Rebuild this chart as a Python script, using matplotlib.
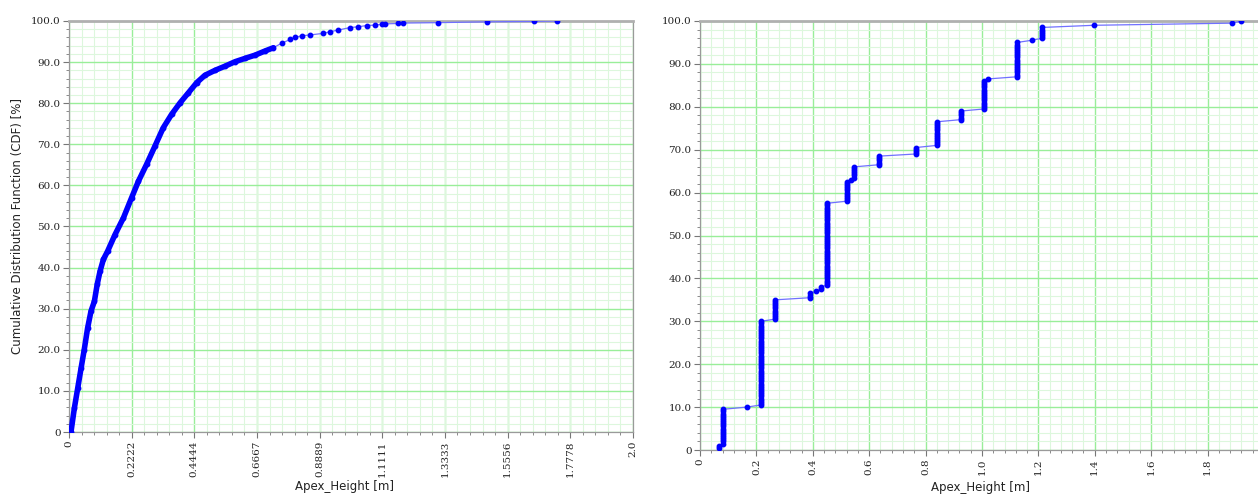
import matplotlib
matplotlib.use("Agg")
import matplotlib.pyplot as plt
from matplotlib.ticker import AutoMinorLocator
import numpy as np

# ---------------- data ----------------
left_x = [0.007, 0.019, 0.031, 0.043, 0.054, 0.066, 0.078, 0.090, 0.100, 0.110,
          0.122, 0.137, 0.163, 0.193, 0.222, 0.246, 0.275, 0.305, 0.334, 0.364,
          0.394, 0.423, 0.453, 0.482, 0.518, 0.553, 0.589, 0.624, 0.660, 0.695,
          0.725, 0.754, 0.784, 0.801, 0.825, 0.855, 0.902, 0.926, 0.955, 0.996,
          1.026, 1.056, 1.085, 1.109, 1.121, 1.168, 1.186, 1.310, 1.481, 1.649,
          1.729]
left_cdf = [0.0, 5.8, 10.7, 15.6, 20.0, 25.3, 29.4, 31.8, 35.9, 39.1,
            42.0, 44.0, 48.0, 52.1, 57.0, 61.0, 65.1, 69.6, 74.0, 77.3,
            80.1, 82.5, 85.0, 86.8, 88.0, 89.0, 90.1, 90.9, 91.7, 92.7,
            93.5, 94.6, 95.5, 96.0, 96.4, 96.6, 97.0, 97.4, 97.8, 98.4,
            98.6, 98.9, 99.0, 99.2, 99.3, 99.4, 99.5, 99.6, 99.8, 99.9,
            100.0]
dense_until = 0.75

left_ticks = [0, 0.2222, 0.4444, 0.6667, 0.8889, 1.1111, 1.3333, 1.5556, 1.7778, 2.0]
left_ticklabels = ["0", "0.2222", "0.4444", "0.6667", "0.8889", "1.1111",
                   "1.3333", "1.5556", "1.7778", "2.0"]

# Right: sample values and how many times each occurs
right_values = [0.067, 0.083, 0.166, 0.216, 0.266, 0.390, 0.410, 0.430, 0.450, 0.520,
                0.535, 0.547, 0.635, 0.765, 0.839, 0.924, 1.008, 1.022, 1.125, 1.176,
                1.214, 1.397, 1.888, 1.920]
right_counts = [2, 17, 1, 40, 10, 3, 1, 2, 39, 10,
                1, 6, 5, 4, 12, 5, 14, 1, 17, 1,
                6, 1, 1, 1]
right_ticks = [0, 0.2, 0.4, 0.6, 0.8, 1.0, 1.2, 1.4, 1.6, 1.8]
right_ticklabels = ["0", "0.2", "0.4", "0.6", "0.8", "1.0", "1.2", "1.4", "1.6", "1.8"]

y_ticks = [0, 10, 20, 30, 40, 50, 60, 70, 80, 90, 100]
y_ticklabels = ["0", "10.0", "20.0", "30.0", "40.0", "50.0", "60.0", "70.0", "80.0", "90.0", "100.0"]

xlabel = "Apex_Height [m]"
ylabel = "Cumulative Distribution Function (CDF) [%]"

# ---------------- style ----------------
W, H = 1258, 496
fig = plt.figure(figsize=(W / 100, H / 100), dpi=100)

MAJOR_GRID = "#99ee99"
MINOR_GRID = "#ddf7dd"
SPINE = "#9a9a9a"
MARK = "#0000ff"
LINE = "#7070ff"
TICKFONT = dict(family="DejaVu Serif", size=7.5)


def rect(l, r, t, b):
    return [l / W, 1 - b / H, (r - l) / W, (b - t) / H]


def style(ax, xticks, xlabels):
    ax.set_facecolor("white")
    ax.set_xticks(xticks)
    ax.set_xticklabels(xlabels, rotation=90, fontdict=TICKFONT)
    ax.set_yticks(y_ticks)
    ax.set_yticklabels(y_ticklabels, fontdict=TICKFONT)
    ax.xaxis.set_minor_locator(AutoMinorLocator(5))
    ax.yaxis.set_minor_locator(AutoMinorLocator(5))
    ax.grid(which="major", color=MAJOR_GRID, lw=1.0, zorder=0)
    ax.grid(which="minor", color=MINOR_GRID, lw=0.8, zorder=0)
    ax.set_axisbelow(True)
    ax.tick_params(which="major", length=4, width=0.8, color="#777777",
                   labelcolor="#222222", pad=2)
    ax.tick_params(which="minor", length=2, width=0.6, color="#777777")
    for s in ax.spines.values():
        s.set_color(SPINE)
        s.set_linewidth(0.9)
    ax.spines["top"].set_linewidth(2.0)
    ax.spines["top"].set_color("#b0b0b0")
    ax.set_ylim(0, 100)


# Left panel
ax1 = fig.add_axes(rect(69, 633, 21, 432))
style(ax1, left_ticks, left_ticklabels)
ax1.set_xlim(0, 2.0)
lx = np.array(left_x)
ly = np.array(left_cdf)
m = lx <= dense_until
ax1.plot(lx, ly, color=LINE, lw=0.9, zorder=3)
ax1.plot(lx[m], ly[m], color=MARK, lw=4.0, solid_capstyle="round", zorder=4)
ax1.plot(lx, ly, ls="none", marker="o", ms=3.2, color=MARK, zorder=5)
ax1.set_xlabel(xlabel, fontsize=8.5, family="DejaVu Sans", color="#222222")
ax1.xaxis.set_label_coords(0.489, -0.118)
ax1.set_ylabel(ylabel, fontsize=8.5, family="DejaVu Sans", color="#222222")
ax1.yaxis.set_label_coords(-0.079, 0.5)

# Right panel
ax2 = fig.add_axes(rect(700, 1258, 21, 450))
style(ax2, right_ticks, right_ticklabels)
ax2.set_xlim(0, 1.979)
ax2.spines["right"].set_visible(False)
samples = np.repeat(right_values, right_counts)
n = len(samples)
pct = np.arange(1, n + 1) / n * 100.0
ax2.plot(samples, pct, color=LINE, lw=0.9, zorder=3)
ax2.plot(samples, pct, ls="none", marker="o", ms=3.2, color=MARK, zorder=5)
ax2.set_xlabel(xlabel, fontsize=8.5, family="DejaVu Sans", color="#222222")
ax2.xaxis.set_label_coords(0.502, -0.073)

fig.savefig("out.png", dpi=100, facecolor="white")
